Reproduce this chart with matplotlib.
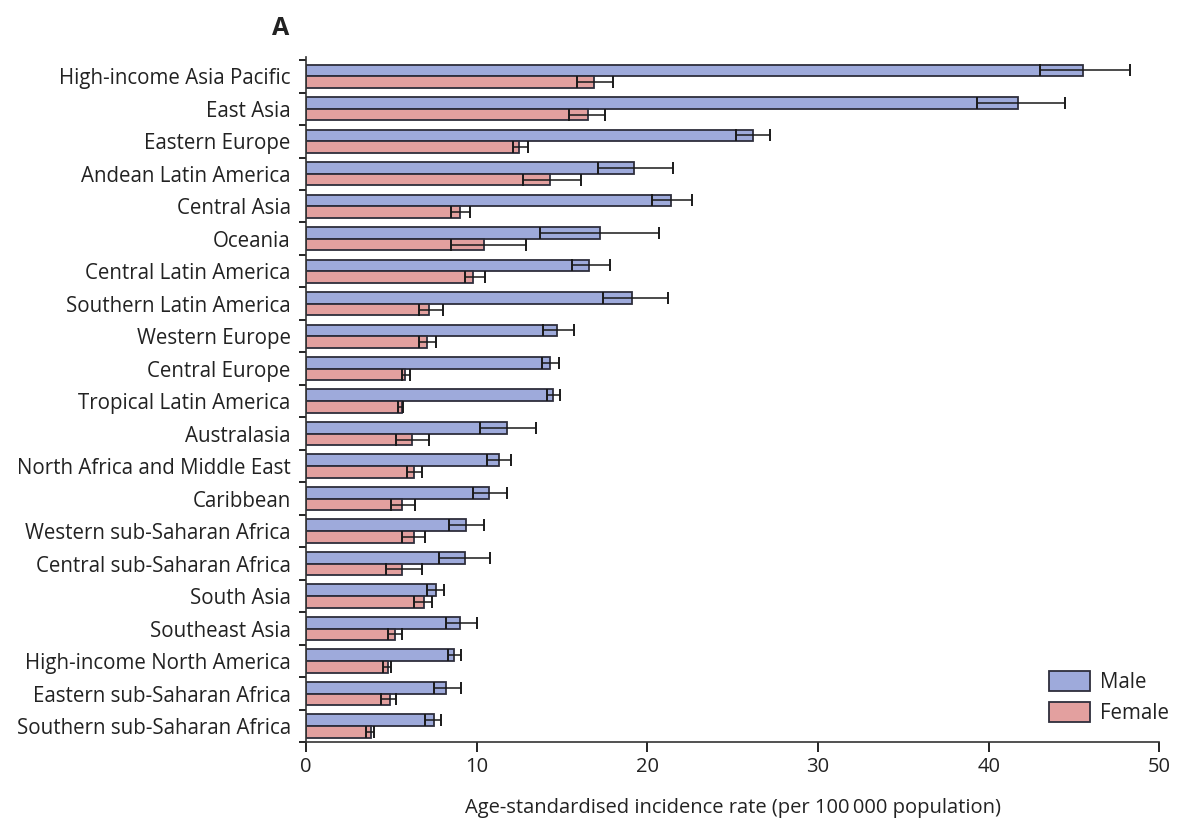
import numpy as np
import matplotlib.pyplot as plt

regions = [
    "High-income Asia Pacific", "East Asia", "Eastern Europe", "Andean Latin America",
    "Central Asia", "Oceania", "Central Latin America", "Southern Latin America",
    "Western Europe", "Central Europe", "Tropical Latin America", "Australasia",
    "North Africa and Middle East", "Caribbean", "Western sub-Saharan Africa",
    "Central sub-Saharan Africa", "South Asia", "Southeast Asia",
    "High-income North America", "Eastern sub-Saharan Africa", "Southern sub-Saharan Africa",
]

male = [45.5, 41.7, 26.2, 19.2, 21.4, 17.2, 16.6, 19.1, 14.7, 14.3, 14.5, 11.8,
        11.3, 10.7, 9.4, 9.3, 7.6, 9.0, 8.7, 8.2, 7.5]
male_lo = [43.0, 39.3, 25.2, 17.1, 20.3, 13.7, 15.6, 17.4, 13.9, 13.8, 14.1, 10.2,
           10.6, 9.8, 8.4, 7.8, 7.1, 8.2, 8.3, 7.5, 7.0]
male_hi = [48.3, 44.5, 27.2, 21.5, 22.6, 20.7, 17.8, 21.2, 15.7, 14.8, 14.9, 13.5,
           12.0, 11.8, 10.4, 10.8, 8.1, 10.0, 9.1, 9.1, 7.9]

female = [16.9, 16.5, 12.5, 14.3, 9.0, 10.4, 9.8, 7.2, 7.1, 5.8, 5.6, 6.2,
          6.3, 5.6, 6.3, 5.6, 6.9, 5.2, 4.8, 4.9, 3.8]
female_lo = [15.9, 15.4, 12.1, 12.7, 8.5, 8.5, 9.3, 6.6, 6.6, 5.6, 5.4, 5.3,
             5.9, 5.0, 5.6, 4.7, 6.3, 4.8, 4.5, 4.4, 3.5]
female_hi = [18.0, 17.5, 13.0, 16.1, 9.6, 12.9, 10.5, 8.0, 7.6, 6.1, 5.7, 7.2,
             6.8, 6.4, 7.0, 6.8, 7.4, 5.6, 5.0, 5.3, 4.0]

xticks = [0, 10, 20, 30, 40, 50]

plt.rcParams["font.family"] = ["Open Sans", "DejaVu Sans"]

male_color = "#9eaadb"
female_color = "#e3a09f"
edge = "#2e2e3c"
text_color = "#222222"

fig = plt.figure(figsize=(11.77, 8.23), dpi=100)
ax = fig.add_axes([0.26, 0.098, 0.725, 0.833])

y = np.arange(len(regions))
h = 0.36
male = np.array(male)
female = np.array(female)
m_err = [male - np.array(male_lo), np.array(male_hi) - male]
f_err = [female - np.array(female_lo), np.array(female_hi) - female]

ax.barh(y - h / 2, male, height=h, color=male_color, edgecolor=edge, linewidth=1.3,
        label="Male")
ax.barh(y + h / 2, female, height=h, color=female_color, edgecolor=edge, linewidth=1.3,
        label="Female")
ax.errorbar(male, y - h / 2, xerr=m_err, fmt="none", ecolor="#1a1a1a", elinewidth=1.1,
            capsize=4.5, capthick=1.4)
ax.errorbar(female, y + h / 2, xerr=f_err, fmt="none", ecolor="#1a1a1a", elinewidth=1.1,
            capsize=4.5, capthick=1.4)

ax.set_ylim(len(regions) - 0.5, -0.6)
ax.set_xlim(0, 50)
ax.set_yticks(y)
ax.set_yticklabels(regions, fontsize=14.8, color=text_color)
ax.tick_params(axis="y", length=0, pad=11)
ax.set_yticks(np.arange(len(regions) + 1) - 0.5, minor=True)
ax.tick_params(axis="y", which="minor", length=5, width=1.2)
ax.set_xticks(xticks)
ax.tick_params(axis="x", length=7, width=1.2, labelsize=14.5, labelcolor=text_color)

for side in ["top", "right"]:
    ax.spines[side].set_visible(False)
for side in ["left", "bottom"]:
    ax.spines[side].set_linewidth(1.2)
    ax.spines[side].set_color("#333333")

ax.set_xlabel("Age-standardised incidence rate (per 100\u2009000 population)",
              fontsize=14.5, labelpad=15, color=text_color)

ax.legend(loc="lower right", bbox_to_anchor=(1.033, 0.0), frameon=False, fontsize=14.8,
          handlelength=2.0, handleheight=1.1, handletextpad=0.5, labelspacing=0.45,
          labelcolor=text_color)

fig.text(0.231, 0.965, "A", fontsize=18, fontweight="bold", va="center", color=text_color)

fig.savefig("out.png", dpi=100)
